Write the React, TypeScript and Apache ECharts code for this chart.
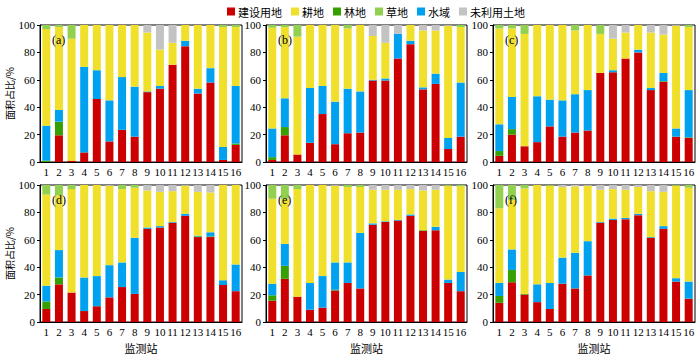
import React, { useEffect, useRef } from "react";
import * as echarts from "echarts";

const stations = ["1","2","3","4","5","6","7","8","9","10","11","12","13","14","15","16"];
const yTicks = [0, 20, 40, 60, 80, 100];

// Panel (a)
const builtA = [0,19.5,1,7,46,15,23.5,18.5,51,53.5,71,84.5,50,58,1.5,12.5];
const forestA = [1,10,0,0,0,0,0,0,0,0,0,0,0,0,0,1];
const waterA = [25.5,8.5,0,62.5,21,30,38.5,36.5,0.5,2,0,4,3.5,10.5,9.5,42];
const farmA = [70.5,60.5,89,30.5,33,55,38,45,43,26.5,16,11.5,46.5,31.5,87.5,43];
const grassA = [3,1.5,10,0,0,0,0,0,0,0,0,0,0,0,1.5,1.5];
const unusedA = [0,0,0,0,0,0,0,0,5.5,18,13,0,0,0,0,0];
// Panel (b)
const builtB = [1.5,19.5,5.5,14,35,13,21,21.5,59.5,59.5,75.5,86,53,57,9.5,18.5];
const forestB = [2,6,0,0,0,0,0,0,0,0,0,0,0,0,0,0];
const waterB = [21,21,0,40,20.5,31,32.5,30,0.5,1.5,18,2.5,1.5,7.5,8,39.5];
const farmB = [73.5,52,86,46,44.5,56,44,48.5,32,26,0,11.5,41.5,31.5,82,40.5];
const grassB = [2,1.5,8.5,0,0,0,2.5,0,0,0,0,0,0,0,0,1.5];
const unusedB = [0,0,0,0,0,0,0,0,8,13,6.5,0,4,4,0.5,0];
// Panel (c)
const builtC = [4.5,20,11.5,14.5,26,18.5,21.5,23,65,65.5,75.5,80,52.5,58.5,18.5,17.5];
const forestC = [3.5,4,0,0,0,0,0,0,0,0,0,0,0,0.5,0,0.5];
const waterC = [19.5,23.5,0,33.5,19.5,26.5,28,29.5,0,1.5,0,2,1.5,6,6,34.5];
const farmC = [70,50,82,52,54.5,55,46.5,47.5,28.5,23,19,18,40.5,28,75,46];
const grassC = [2.5,2.5,6.5,0,0,0,4,0,6.5,0,0,0,0,0,0,1.5];
const unusedC = [0,0,0,0,0,0,0,0,0,10,5.5,0,5.5,7,0.5,0];
// Panel (d)
const builtD = [9.5,27.5,21.5,8,11.5,18,25.5,20.5,68,69,72.5,77.5,62,62,27,22.5];
const forestD = [5.5,5,0,0,0,0,0,0,0,0,0,0,0.5,0.5,0,0];
const waterD = [11.5,20,0,24.5,22,23.5,18,41,1,1,0.5,1.5,0.5,3,3.5,19.5];
const farmD = [66.5,40,75.5,67.5,66.5,58,53.5,36.5,27,25,22.5,20.5,32,29,69.5,58];
const grassD = [7,7.5,3,0,0,0,3,2,0,0,0,0,0,0,0,0];
const unusedD = [0,0,0,0,0,0.5,0,0,4,5,4.5,0.5,5,5.5,0,0];
// Panel (e)
const builtE = [15.5,31.5,18.5,9,10.5,23,28.5,24.5,71,73,74,77.5,66.5,67,28.5,22.5];
const forestE = [4,9.5,0,0,0,0.5,0,0,0,0,0,0,0.5,0,0,0];
const waterE = [8.5,16,0,19.5,23,20,15,40.5,1,0.5,0.5,1,0,2.5,2.5,14];
const farmE = [62,33,78.5,71.5,66.5,56,55,33.5,24.5,23,22,18.5,29,27,68.5,62.5];
const grassE = [10,10,3,0,0,0,1.5,1.5,0,0,0,0,0,0,0.5,1];
const unusedE = [0,0,0,0,0,0.5,0,0,3.5,3.5,3.5,3,4,3.5,0,0];
// Panel (f)
const builtF = [14,29,20,14.5,9.5,28,24.5,34,72.5,74.5,75,78,61.5,68,29.5,17];
const forestF = [5,9,0.5,0,0,0,0,0,0,0,0,0,0,0,0,0];
const waterF = [9.5,15,0,13,19,19,26,25,0.5,1,1,1,0.5,2,2.5,12.5];
const farmF = [54.5,36,77,72.5,71,51.5,48.5,40.5,23.5,21.5,20.5,19.5,33.5,25,67.5,68.5];
const grassF = [17,11,2.5,0,0.5,0,0,0,0,0,0,0,0,0,0.5,2];
const unusedF = [0,0,0,0,0,1.5,1,0.5,3.5,3,3.5,1.5,4.5,5,0,0];

const panelLabels = ["(a)", "(b)", "(c)", "(d)", "(e)", "(f)"];
const legendNames = ["建设用地", "耕地", "林地", "草地", "水域", "未利用土地"];

const colors: Record<string, string> = {
  "建设用地": "#cc0000",
  "耕地": "#f0e02c",
  "林地": "#36a003",
  "草地": "#92d050",
  "水域": "#00a2f0",
  "未利用土地": "#c3c3c3",
};

const panels = [
  [builtA, forestA, waterA, farmA, grassA, unusedA],
  [builtB, forestB, waterB, farmB, grassB, unusedB],
  [builtC, forestC, waterC, farmC, grassC, unusedC],
  [builtD, forestD, waterD, farmD, grassD, unusedD],
  [builtE, forestE, waterE, farmE, grassE, unusedE],
  [builtF, forestF, waterF, farmF, grassF, unusedF],
];
const stackNames = ["建设用地", "林地", "水域", "耕地", "草地", "未利用土地"];

const serif = "Liberation Serif";
const cjk = "Noto Sans CJK SC";

export default function App() {
  const ref = useRef<HTMLDivElement>(null);
  useEffect(() => {
    if (!ref.current) return;
    const chart = echarts.init(ref.current, null, { renderer: "svg" });
    const lefts = [40, 266, 493];
    const widths = [202, 201, 202];
    const tops = [25, 185];
    const grids: any[] = [];
    const xAxes: any[] = [];
    const yAxes: any[] = [];
    const series: any[] = [];
    const graphics: any[] = [];
    for (let p = 0; p < 6; p++) {
      const col = p % 3;
      const row = Math.floor(p / 3);
      grids.push({
        left: lefts[col],
        width: widths[col],
        top: tops[row],
        height: 137,
        show: true,
        borderColor: "#000",
        borderWidth: 1,
        backgroundColor: "transparent",
      });
      xAxes.push({
        type: "category",
        gridIndex: p,
        data: stations,
        axisLine: { lineStyle: { color: "#000", width: 1 } },
        axisTick: { show: false },
        axisLabel: { color: "#000", fontFamily: serif, fontSize: 11, margin: 4, interval: 0 },
        name: row === 1 ? "监测站" : "",
        nameLocation: "middle",
        nameGap: 20,
        nameTextStyle: { color: "#000", fontFamily: cjk, fontSize: 11 },
      });
      yAxes.push({
        type: "value",
        gridIndex: p,
        min: 0,
        max: 100,
        interval: 20,
        splitLine: { show: false },
        axisLine: { show: true, lineStyle: { color: "#000", width: 1 } },
        axisTick: { show: true, length: 3, lineStyle: { color: "#000" } },
        axisLabel: { color: "#000", fontFamily: serif, fontSize: 11, margin: 5, customValues: yTicks },
        name: col === 0 ? "面积占比/%" : "",
        nameLocation: "middle",
        nameRotate: 90,
        nameGap: 21,
        nameTextStyle: { color: "#000", fontFamily: cjk, fontSize: 10 },
      });
      stackNames.forEach((nm, k) => {
        series.push({
          type: "bar",
          name: nm,
          xAxisIndex: p,
          yAxisIndex: p,
          stack: "s" + p,
          barWidth: 8,
          data: panels[p][k],
          itemStyle: { color: colors[nm] },
        });
      });
      graphics.push({
        type: "text",
        z: 100,
        left: lefts[col] + 12,
        top: tops[row] + 9,
        style: { text: panelLabels[p], fill: "#000", fontFamily: serif, fontSize: 12 },
      });
    }
    chart.setOption({
      animation: false,
      backgroundColor: "#fff",
      color: legendNames.map((n) => colors[n]),
      legend: {
        data: legendNames,
        left: 222,
        top: 1,
        itemWidth: 8,
        itemHeight: 8,
        itemGap: 9,
        icon: "rect",
        textStyle: { color: "#000", fontFamily: cjk, fontSize: 11, padding: [0, 0, 0, -2] },
      },
      grid: grids,
      xAxis: xAxes,
      yAxis: yAxes,
      series,
      graphic: graphics,
    });
    return () => chart.dispose();
  }, []);
  return (
    <div
      ref={ref}
      style={{ position: "fixed", left: 0, top: 0, width: 700, height: 354, background: "#fff" }}
    />
  );
}
